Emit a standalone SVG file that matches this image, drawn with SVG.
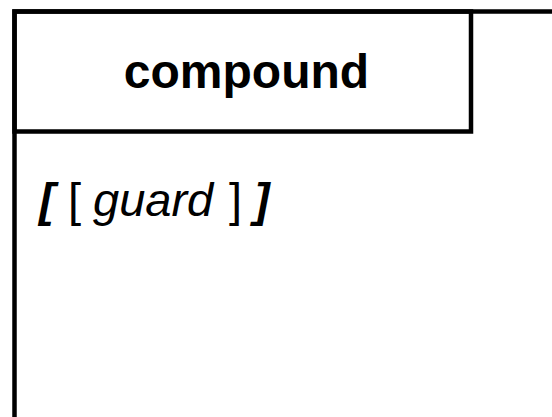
<svg xmlns="http://www.w3.org/2000/svg" width="552" height="417" viewBox="0 0 552 417">
  <style>
    .frame { fill: none; stroke: #000; stroke-width: 4.5; }
    .title { font-family: "Liberation Sans", Arial, sans-serif; font-weight: bold; font-size: 48px; fill: #000; }
    .guard { font-family: "Liberation Sans", Arial, sans-serif; font-size: 47px; fill: #000; }
    .bi { font-weight: bold; font-style: italic; }
    .it { font-style: italic; }
  </style>
  <rect width="552" height="417" fill="#fff"/>
  <g id="compound">
    <!-- outer region, running off the right and bottom edges -->
    <path class="frame" d="M14.5 430 V11.5 H560"/>
    <!-- name tab -->
    <rect id="compound-tab" class="frame" x="14.5" y="11.5" width="456.5" height="120"/>
    <text class="title" x="246.5" y="88" text-anchor="middle">compound</text>
    <!-- guard line: bold-italic outer brackets around the plain [ guard ] -->
    <text class="guard" y="216">
      <tspan class="bi" x="39">[</tspan>
      <tspan x="68">[</tspan>
      <tspan class="it" x="93">guard</tspan>
      <tspan x="229">]</tspan>
      <tspan class="bi" x="254">]</tspan>
    </text>
  </g>
</svg>
